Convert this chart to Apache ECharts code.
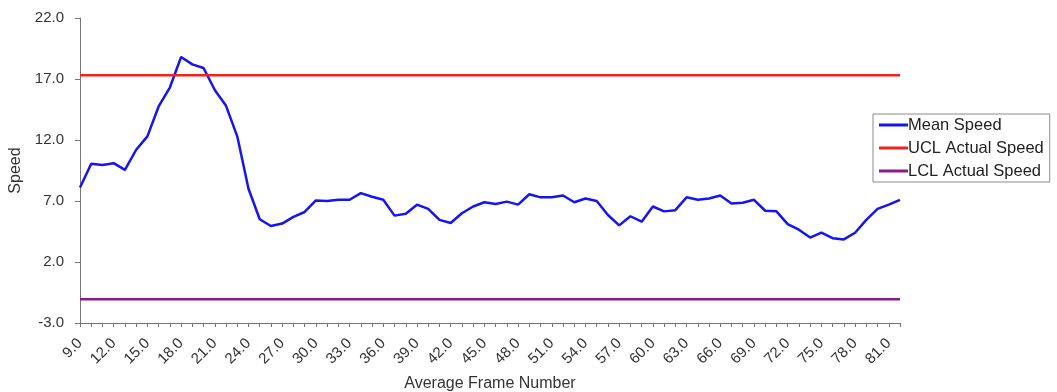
<!DOCTYPE html>
<html>
<head>
<meta charset="utf-8">
<script src="https://cdn.jsdelivr.net/npm/echarts@6/dist/echarts.min.js"></script>
<style>
  html, body { margin: 0; padding: 0; background: #fff; }
  #main { width: 1057px; height: 392px; }
</style>
</head>
<body>
<div id="main"></div>
<script>
// frame numbers on the x axis
var frames = [9, 10, 11, 12, 13, 14, 15, 16, 17, 18, 19, 20, 21, 22, 23, 24, 25, 26, 27, 28,
  29, 30, 31, 32, 33, 34, 35, 36, 37, 38, 39, 40, 41, 42, 43, 44, 45, 46, 47, 48,
  49, 50, 51, 52, 53, 54, 55, 56, 57, 58, 59, 60, 61, 62, 63, 64, 65, 66, 67, 68,
  69, 70, 71, 72, 73, 74, 75, 76, 77, 78, 79, 80, 81, 82];

// mean speed
var meanSpeed = [8.1, 10.05, 9.95, 10.1, 9.55, 11.2, 12.3, 14.75, 16.3, 18.8, 18.2, 17.9, 16.1, 14.8, 12.3, 8.0,
  5.5, 4.95, 5.15, 5.7, 6.1, 7.05, 7.0, 7.1, 7.1, 7.65, 7.35, 7.1, 5.8, 5.95,
  6.7, 6.35, 5.45, 5.2, 6.0, 6.55, 6.9, 6.75, 6.95, 6.7, 7.55, 7.3, 7.3, 7.45,
  6.9, 7.2, 7.0, 5.85, 5.0, 5.75, 5.3, 6.55, 6.15, 6.25, 7.3, 7.1, 7.2, 7.45,
  6.8, 6.85, 7.1, 6.2, 6.15, 5.1, 4.65, 4.0, 4.4, 3.95, 3.85, 4.4, 5.45, 6.35,
  6.7, 7.1];

// control limits
var uclSpeed = 17.3;
var lclSpeed = -1.05;

// y axis ticks
var yMin = -3, yMax = 22, yStep = 5;

var chart = echarts.init(document.getElementById('main'));

var option = {
  animation: false,
  backgroundColor: '#ffffff',
  textStyle: { fontFamily: 'Liberation Sans, Arial, sans-serif' },
  grid: { left: 80, right: 157, top: 18, bottom: 69, outerBoundsMode: 'none', containLabel: false },
  legend: {
    orient: 'vertical',
    left: 873,
    top: 114,
    padding: [2, 6, 2, 6],
    itemGap: 5,
    itemWidth: 29,
    itemHeight: 3,
    icon: 'rect',
    borderColor: '#8a8a8a',
    borderWidth: 1,
    textStyle: { fontSize: 16.5, lineHeight: 18, color: '#222', padding: [0, 0, 0, -5] },
    data: ['Mean Speed', 'UCL Actual Speed', 'LCL Actual Speed']
  },
  xAxis: {
    type: 'category',
    boundaryGap: false,
    data: frames,
    name: 'Average Frame Number',
    nameLocation: 'middle',
    nameGap: 53,
    nameTextStyle: { fontSize: 16, color: '#333' },
    axisLine: { onZero: false, lineStyle: { color: '#777', width: 1 } },
    axisTick: { show: true, interval: 0, length: 4, lineStyle: { color: '#777' } },
    axisLabel: {
      interval: 2,
      rotate: 45,
      fontSize: 15,
      color: '#333',
      margin: 18,
      formatter: function (v) { return Number(v).toFixed(1); }
    },
    splitLine: { show: false }
  },
  yAxis: {
    type: 'value',
    min: yMin,
    max: yMax,
    interval: yStep,
    name: 'Speed',
    nameLocation: 'middle',
    nameRotate: 90,
    nameGap: 55,
    nameTextStyle: { fontSize: 16, color: '#333' },
    axisLine: { show: true, lineStyle: { color: '#777', width: 1 } },
    axisTick: { show: true, length: 5, lineStyle: { color: '#777' } },
    axisLabel: {
      fontSize: 15,
      color: '#333',
      margin: 16,
      formatter: function (v) { return v.toFixed(1); }
    },
    splitLine: { show: false }
  },
  series: [
    {
      name: 'Mean Speed',
      type: 'line',
      data: meanSpeed,
      symbol: 'none',
      color: '#1414f5',
      lineStyle: { color: '#1414f5', width: 2.5 }
    },
    {
      name: 'UCL Actual Speed',
      type: 'line',
      data: frames.map(function () { return uclSpeed; }),
      symbol: 'none',
      color: '#f22020',
      lineStyle: { color: '#f22020', width: 2.5 }
    },
    {
      name: 'LCL Actual Speed',
      type: 'line',
      data: frames.map(function () { return lclSpeed; }),
      symbol: 'none',
      color: '#8a1a8e',
      lineStyle: { color: '#8a1a8e', width: 2.5 }
    }
  ]
};

chart.setOption(option);
</script>
</body>
</html>
